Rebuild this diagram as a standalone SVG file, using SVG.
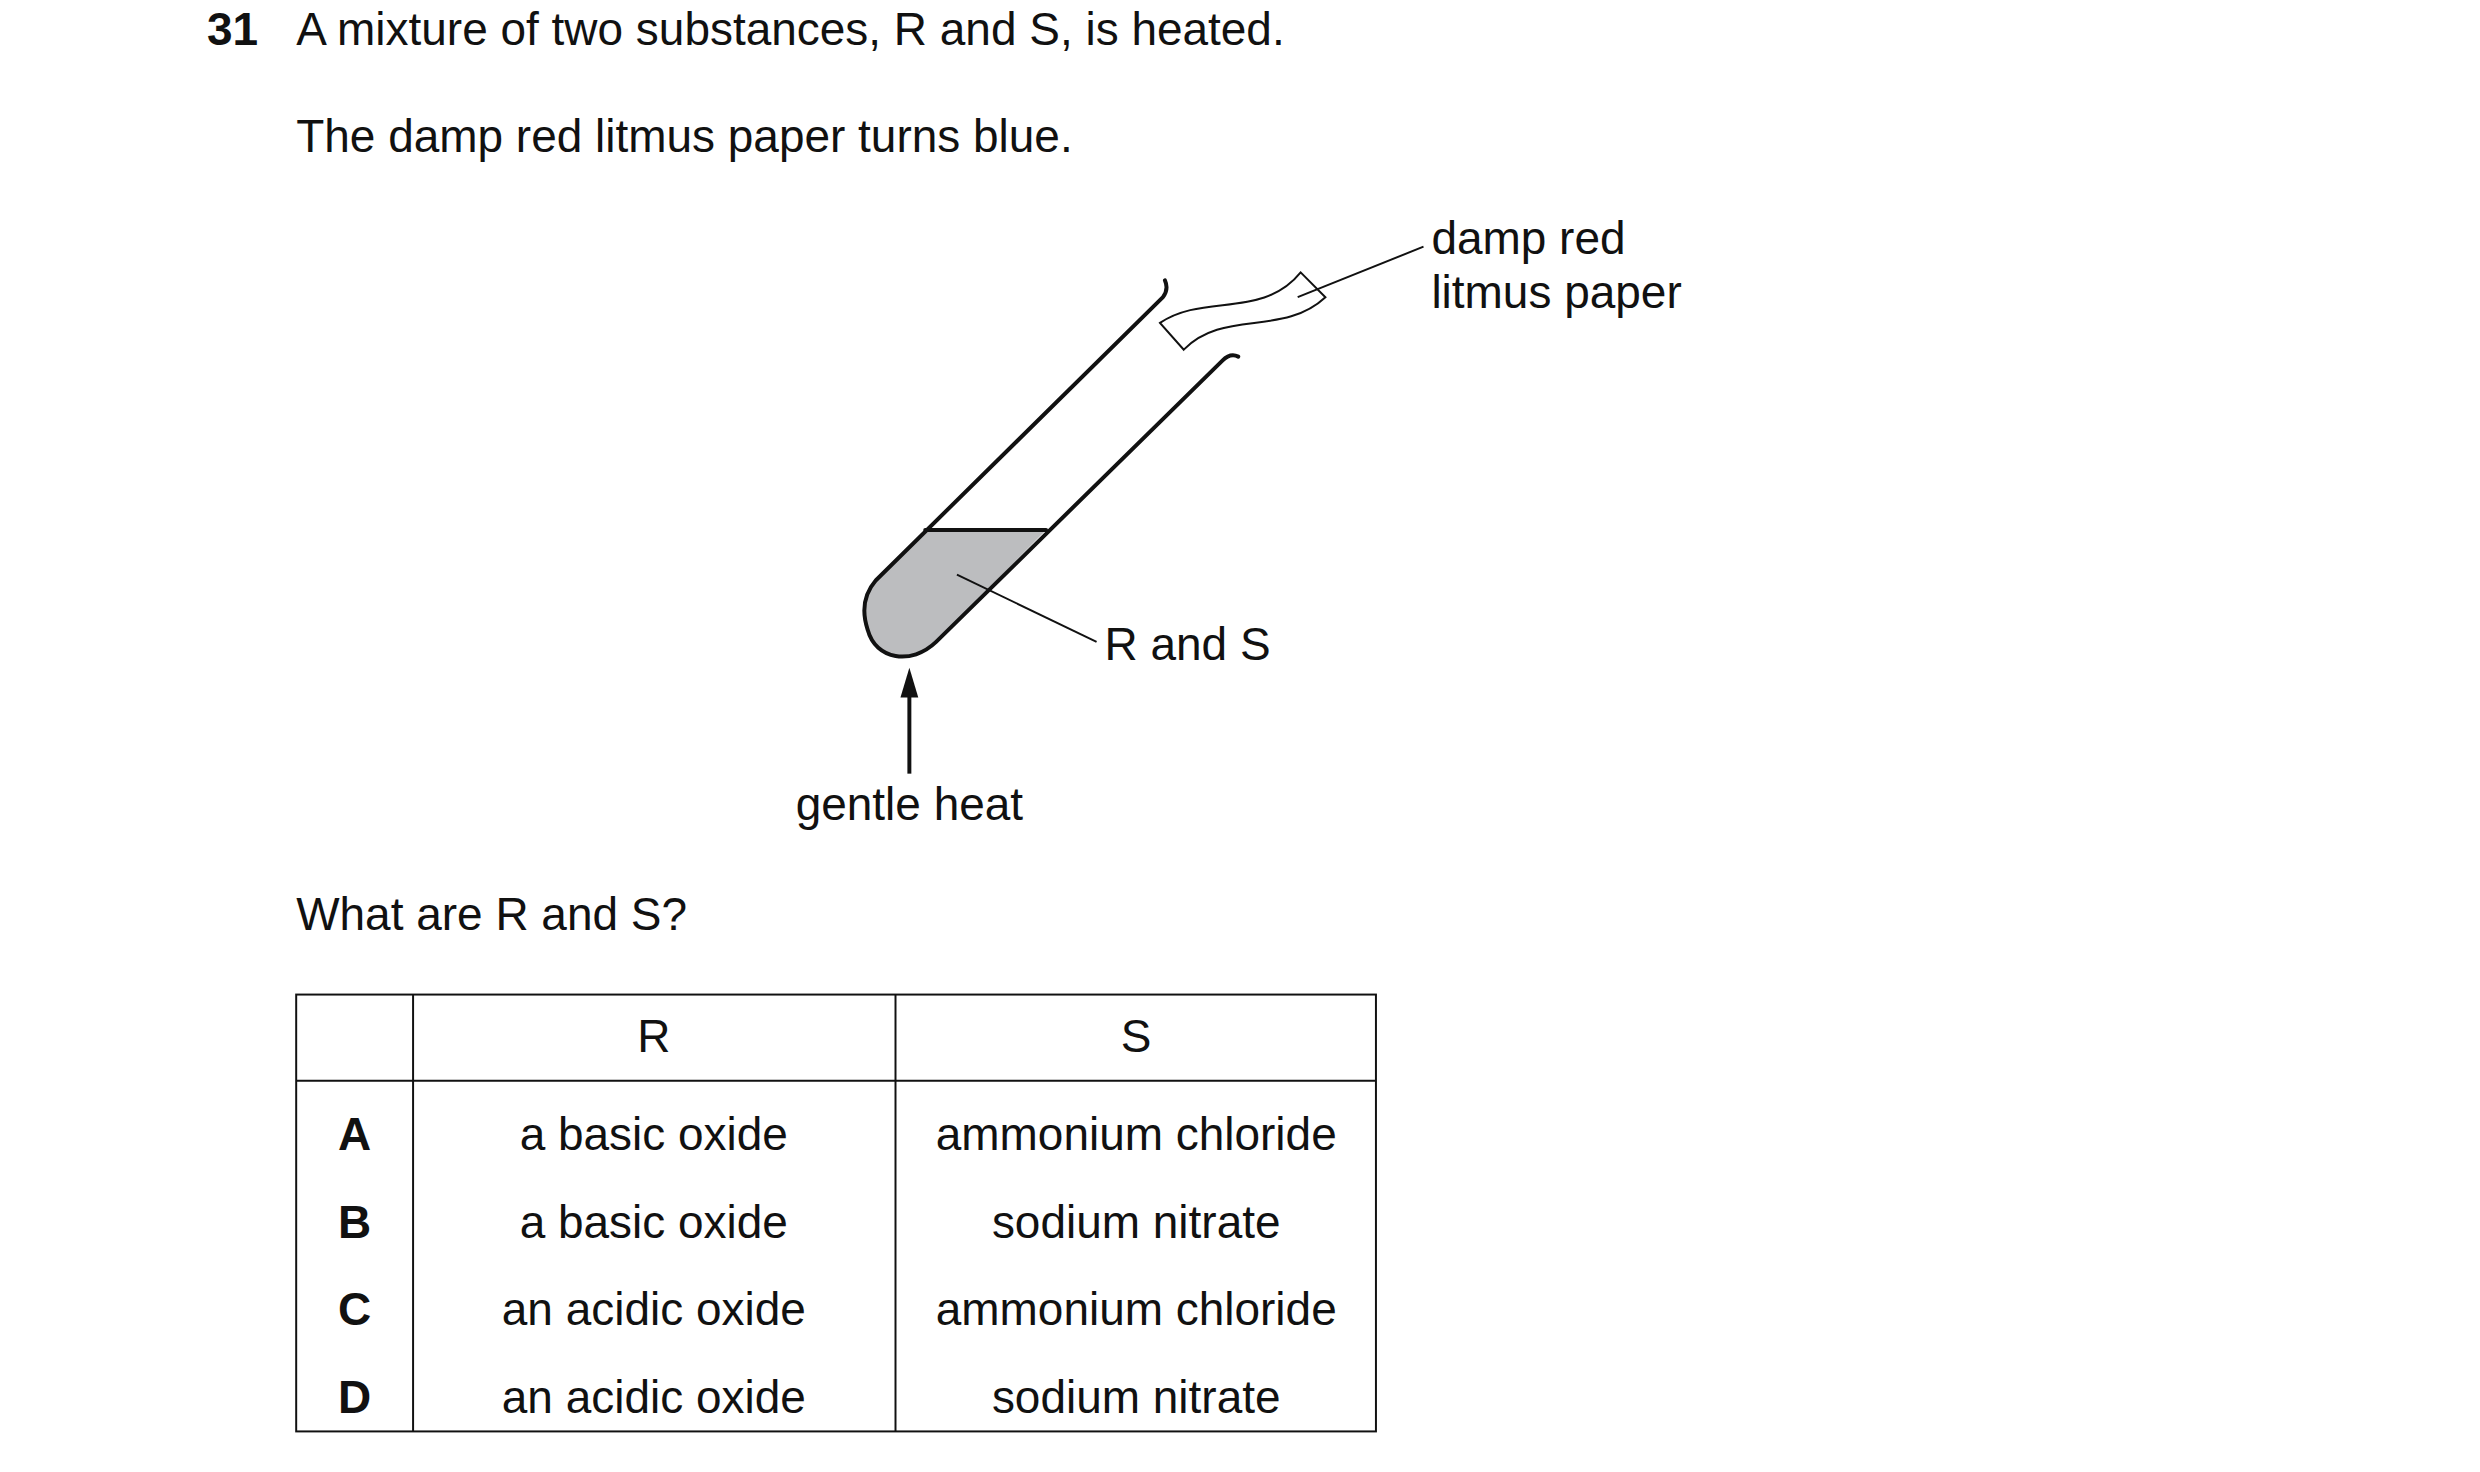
<svg xmlns="http://www.w3.org/2000/svg" width="2480" height="1472" viewBox="0 0 2480 1472">
<style>
text{font-family:"Liberation Sans",Arial,sans-serif;font-size:46.4px;fill:#111}
.b{font-weight:bold}
.m{text-anchor:middle}
.ln{fill:none;stroke:#111;stroke-width:2}
.tb{fill:none;stroke:#111;stroke-width:4;stroke-linecap:round;stroke-linejoin:round}
</style>
<rect width="2480" height="1472" fill="#fff"/>
<g transform="scale(0.9906)">
<g id="question">
<text x="209" y="45" class="b">31</text>
<text x="299" y="45">A mixture of two substances, R and S, is heated.</text>
<text x="299" y="153">The damp red litmus paper turns blue.</text>
<text x="299" y="939">What are R and S?</text>
</g>
<g id="tube">
<path d="M934,535 L1056,535 L945,648 C920,672 884,666 876,636 C870,618 872,600 884,586 Z" fill="#bcbdbf"/>
<path class="tb" d="M1176,283 Q1180,292 1174,300 L884,586 C872,600 870,618 876,636 C884,666 920,672 945,648 L1234,364 Q1242,356 1250,360"/>
<path class="tb" d="M934,535 L1056,535"/>
</g>
<g id="litmus">
<path class="ln" stroke-width="3" d="M1171,326 C1215,296 1275,322 1313,275 L1338,300 C1295,340 1235,312 1195,353 Z"/>
<text x="1445" y="256">damp red</text>
<text x="1445" y="311">litmus paper</text>
</g>
<g id="labels">
<text x="1115" y="666">R and S</text>
<text x="918" y="828" class="m">gentle heat</text>
</g>
<g id="connectors">
<line class="ln" x1="1310" y1="300" x2="1437" y2="249"/>
<line class="ln" x1="966" y1="580" x2="1107" y2="648"/>
<line x1="918" y1="781" x2="918" y2="700" stroke="#111" stroke-width="4"/>
<polygon points="918,674 909,704 927,704" fill="#111"/>
</g>
<g id="table">
<rect x="299" y="1004" width="1090" height="441" class="ln"/>
<line class="ln" x1="299" y1="1091" x2="1389" y2="1091"/>
<line class="ln" x1="417" y1="1004" x2="417" y2="1445"/>
<line class="ln" x1="904" y1="1004" x2="904" y2="1445"/>
<text x="660" y="1062" class="m">R</text>
<text x="1147" y="1062" class="m">S</text>
<text x="358" y="1161" class="m b">A</text>
<text x="358" y="1250" class="m b">B</text>
<text x="358" y="1338" class="m b">C</text>
<text x="358" y="1426" class="m b">D</text>
<text x="660" y="1161" class="m">a basic oxide</text>
<text x="660" y="1250" class="m">a basic oxide</text>
<text x="660" y="1338" class="m">an acidic oxide</text>
<text x="660" y="1426" class="m">an acidic oxide</text>
<text x="1147" y="1161" class="m">ammonium chloride</text>
<text x="1147" y="1250" class="m">sodium nitrate</text>
<text x="1147" y="1338" class="m">ammonium chloride</text>
<text x="1147" y="1426" class="m">sodium nitrate</text>
</g>
</g>
</svg>
